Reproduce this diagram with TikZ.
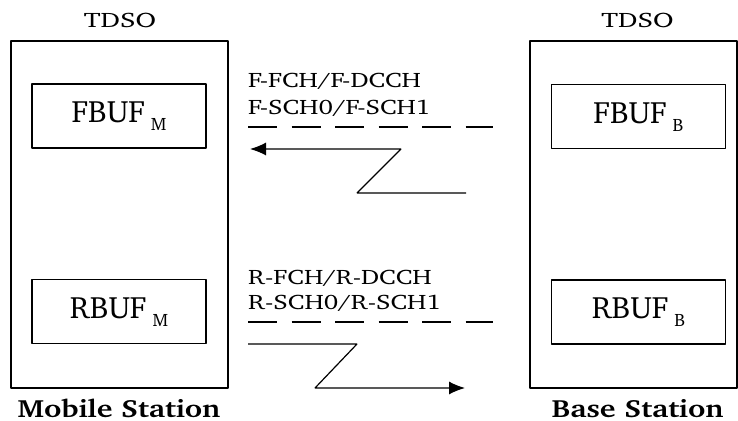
\documentclass[tikz,border=0pt]{standalone}
\usepackage[T1]{fontenc}
\usepackage{charter}
\usetikzlibrary{arrows.meta}
\newcommand{\bufsub}[1]{\hspace{6bp}\raisebox{-8bp}{\fontsize{18}{18}\selectfont #1}}
\newcommand{\widetxt}[2]{\scalebox{#1}[1]{#2}}
\begin{document}
\begin{tikzpicture}[>=latex,line join=bevel,
  station/.style={draw,line width=1.2bp,minimum width=217bp,minimum height=347bp},
  buffer/.style={draw,line width=1.2bp,minimum width=174bp,minimum height=64bp,font=\fontsize{31}{31}\selectfont},
  heading/.style={anchor=base,font=\fontsize{21}{21}\selectfont},
  chan/.style={anchor=base west,inner sep=0pt,font=\fontsize{21}{21}\selectfont},
  footer/.style={anchor=base,font=\fontsize{25}{25}\selectfont\bfseries},
  air/.style={line width=1.2bp,dash pattern=on 29bp off 14.5bp},
  link/.style={line width=1.2bp,-{Latex[length=16bp,width=13bp]}}]
\useasboundingbox (0bp,0bp) rectangle (738bp,421bp);
%%
\node (mobile) at (119.5bp,206.5bp) [station] {};
  \node (base) at (633.5bp,206.5bp) [station,minimum width=207bp] {};
  \node (tdso_m) at (120bp,393bp) [heading] {\widetxt{1.34}{TDSO}};
  \node (tdso_b) at (637.5bp,393bp) [heading] {\widetxt{1.34}{TDSO}};
  \node (fbuf_m) at (119bp,305bp) [buffer] {FBUF\bufsub{M}};
  \node (rbuf_m) at (119bp,109.5bp) [buffer] {RBUF\bufsub{M}};
  \node (fbuf_b) at (638.5bp,304.5bp) [buffer] {FBUF\bufsub{B}};
  \node (rbuf_b) at (638.5bp,109bp) [buffer] {RBUF\bufsub{B}};
  \node (ms) at (119bp,4bp) [footer] {\widetxt{1.2}{Mobile Station}};
  \node (bs) at (637.5bp,4bp) [footer] {\widetxt{1.2}{Base Station}};
%
  \node (fwd_1) at (248bp,333bp) [chan] {\widetxt{1.25}{F-FCH/F-DCCH}};
  \node (fwd_2) at (248bp,306bp) [chan] {\widetxt{1.25}{F-SCH0/F-SCH1}};
  \node (rev_1) at (248bp,136bp) [chan] {\widetxt{1.25}{R-FCH/R-DCCH}};
  \node (rev_2) at (248bp,111bp) [chan] {\widetxt{1.25}{R-SCH0/R-SCH1}};
  \coordinate (fwd_air_a) at (248bp,294bp);
  \coordinate (fwd_air_b) at (493bp,294bp);
  \coordinate (rev_air_a) at (248bp,99bp);
  \coordinate (rev_air_b) at (493bp,99bp);
  \draw [air] (fwd_air_a) -- (fwd_air_b);
  \draw [air] (rev_air_a) -- (rev_air_b);
%
  \coordinate (fwd_start) at (466bp,228bp);
  \coordinate (fwd_end) at (250bp,272bp);
  \coordinate (rev_start) at (248bp,77bp);
  \coordinate (rev_end) at (465bp,33bp);
  \draw [link] (fwd_start) -- (357bp,228bp) -- (401bp,272bp) -- (fwd_end);
  \draw [link] (rev_start) -- (357bp,77bp) -- (315bp,33bp) -- (rev_end);
%
\end{tikzpicture}
\end{document}
